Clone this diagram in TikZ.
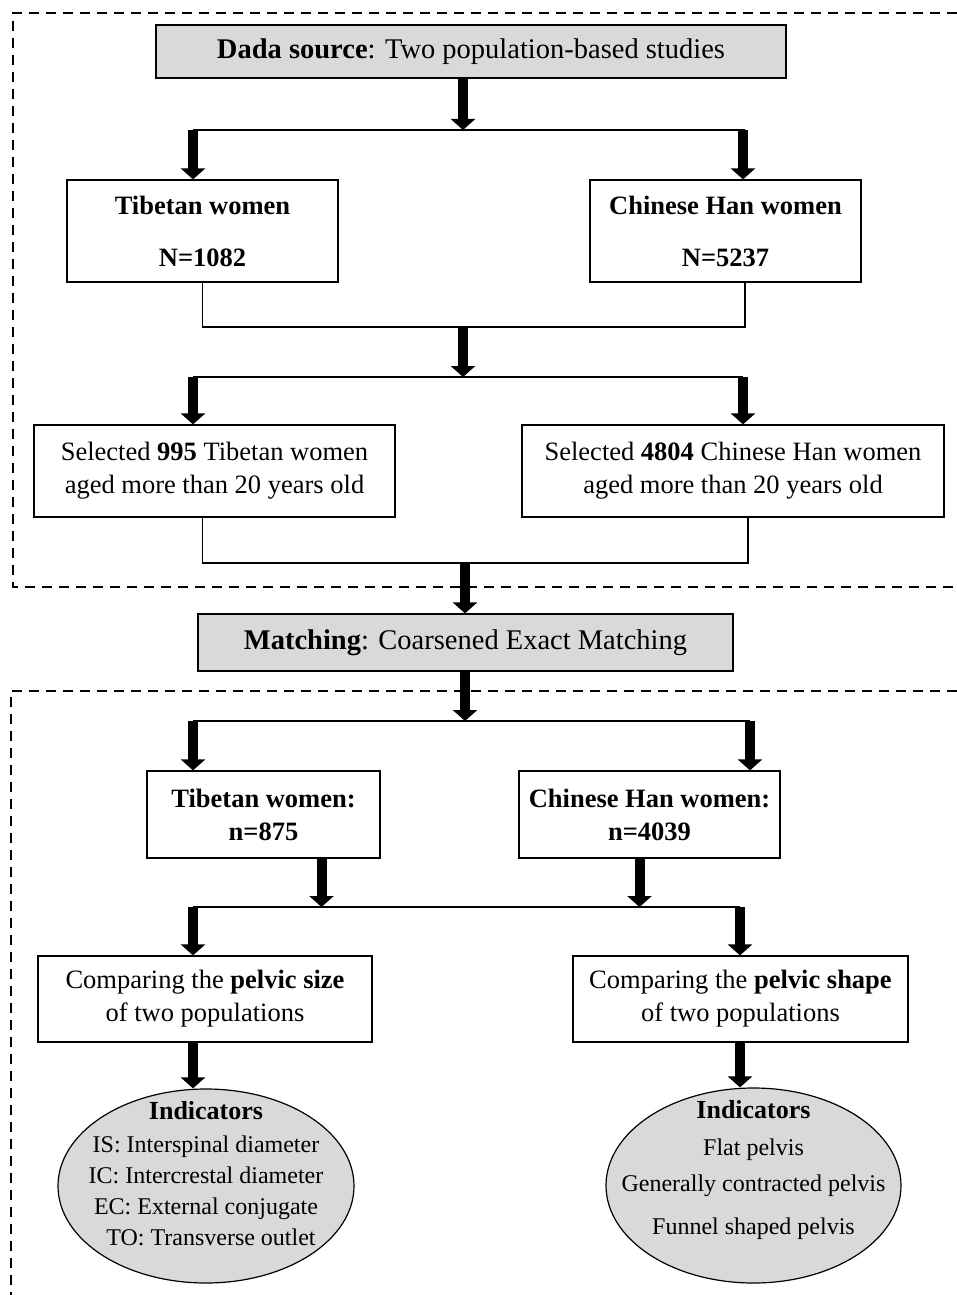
\documentclass[tikz,border=0pt]{standalone}
\usepackage{fontspec}
\setmainfont{Liberation Serif}
\usepackage{tikz}
\usetikzlibrary{arrows.meta,positioning,shapes,calc}
\definecolor{boxgray}{RGB}{217,217,217}

\begin{document}
\begin{tikzpicture}[x=1pt,y=-1pt,
    box/.style={draw, line width=1.2pt, inner sep=0pt, align=center,
      font=\fontsize{26.5}{33}\selectfont},
    graybox/.style={box, fill=boxgray, font=\fontsize{28.5}{34}\selectfont},
    indic/.style={draw, ellipse, line width=1.2pt, fill=boxgray, inner sep=0pt},
    itext/.style={align=center, inner sep=0pt, font=\fontsize{24}{31}\selectfont},
    link/.style={line width=1.2pt},
    bigarrow/.style={line width=10pt, -{Triangle[width=24pt,length=11pt]}},
    frame/.style={line width=2pt, dash pattern=on 10pt off 7pt}]
    \useasboundingbox (0,0) rectangle (957,1295);

    % dashed frames
    \draw[frame] (957,13) -| (13,587) -- (957,587);
    \draw[frame] (957,691) -| (11,1295);

    % data source
    \node[graybox, minimum width=630, minimum height=53] (src) at (471,51.5)
      {\textbf{Dada source}: Two population-based studies};
    \node[box, minimum width=271, minimum height=102] (tibA) at (202.5,231)
      {\textbf{Tibetan women}\\[19pt]\textbf{N=1082}};
    \node[box, minimum width=271, minimum height=102] (hanA) at (725.5,231)
      {\textbf{Chinese Han women}\\[19pt]\textbf{N=5237}};
    \node[box, minimum width=361, minimum height=92] (selT) at (214.5,471)
      {Selected \textbf{995} Tibetan women\\aged more than 20 years old};
    \node[box, minimum width=422, minimum height=92] (selH) at (733,471)
      {Selected \textbf{4804} Chinese Han women\\aged more than 20 years old};

    % matching
    \node[graybox, minimum width=535, minimum height=57] (match) at (465.5,642.5)
      {\textbf{Matching}: Coarsened Exact Matching};
    \node[box, minimum width=233, minimum height=87] (tibB) at (263.5,814.5)
      {\textbf{Tibetan women:}\\\textbf{n=875}};
    \node[box, minimum width=261, minimum height=87] (hanB) at (649.5,814.5)
      {\textbf{Chinese Han women:}\\\textbf{n=4039}};
    \node[box, minimum width=334, minimum height=86] (cmpS) at (205,999)
      {Comparing the \textbf{pelvic size}\\of two populations};
    \node[box, minimum width=335, minimum height=86] (cmpH) at (740.5,999)
      {Comparing the \textbf{pelvic shape}\\of two populations};

    % indicators
    \node[indic, minimum width=296, minimum height=194] (indS) at (206,1186) {};
    \node[itext] (indStxt) at (206,1174)
      {{\fontsize{26}{31}\selectfont\textbf{Indicators}}\\[2pt]
       IS: Interspinal diameter\\IC: Intercrestal diameter\\
       EC: External conjugate\\\hspace{10pt}TO: Transverse outlet};
    \node[indic, minimum width=295, minimum height=195] (indH) at (753.5,1185.5) {};
    \node[itext] (indHtxt) at (753.5,1170)
      {{\fontsize{26}{31}\selectfont\textbf{Indicators}}\\[6pt]
       Flat pelvis\\[5pt]Generally contracted pelvis\\[12pt]Funnel shaped pelvis};

    % junctions
    \coordinate (j1) at (463,130);
    \coordinate (j1L) at (193,130);
    \coordinate (j1R) at (745,130);
    \coordinate (j2) at (463,327);
    \coordinate (j2R) at (745,327);
    \coordinate (j3) at (463,377);
    \coordinate (j3L) at (193,377);
    \coordinate (j3R) at (743,377);
    \coordinate (j4) at (465,563);
    \coordinate (j4R) at (748,563);
    \coordinate (j5) at (465,721);
    \coordinate (j5L) at (193,721);
    \coordinate (j5R) at (750,721);
    \coordinate (j6L) at (193,907);
    \coordinate (j6R) at (740,907);

    % connectors
    \draw[bigarrow] (src.south -| j1) -- (j1);
    \draw[link] (j1L) -- (j1R);
    \draw[bigarrow] (j1L) -- (j1L |- tibA.north);
    \draw[bigarrow] ([xshift=-2pt]j1R) -- ([xshift=-2pt]j1R |- hanA.north);

    \draw[link] (tibA.south) |- (j2R) -- (j2R |- hanA.south);
    \draw[bigarrow] (j2) -- (j3);
    \draw[link] (j3L) -- (j3R);
    \draw[bigarrow] (j3L) -- (j3L |- selT.north);
    \draw[bigarrow] (j3R) -- (j3R |- selH.north);

    \draw[link] (selT.south -| tibA.south) |- (j4R) -- (j4R |- selH.south);
    \draw[bigarrow] (j4) -- (j4 |- match.north);
    \draw[bigarrow] (match.south -| j5) -- (j5);
    \draw[link] (j5L) -- (j5R);
    \draw[bigarrow] (j5L) -- (j5L |- tibB.north);
    \draw[bigarrow] (j5R) -- (j5R |- hanB.north);

    \draw[bigarrow] ([xshift=58pt]tibB.south) -- ([xshift=58pt]tibB.south |- j6L);
    \draw[bigarrow] ([xshift=-10pt]hanB.south) -- ([xshift=-10pt]hanB.south |- j6L);
    \draw[link] (j6L) -- (j6R);
    \draw[bigarrow] (j6L) -- (j6L |- cmpS.north);
    \draw[bigarrow] (j6R) -- (j6R |- cmpH.north);

    \draw[bigarrow] (cmpS.south -| j6L) -- (indS.north -| j6L);
    \draw[bigarrow] (cmpH.south -| j6R) -- (indH.north -| j6R);
\end{tikzpicture}
\end{document}
